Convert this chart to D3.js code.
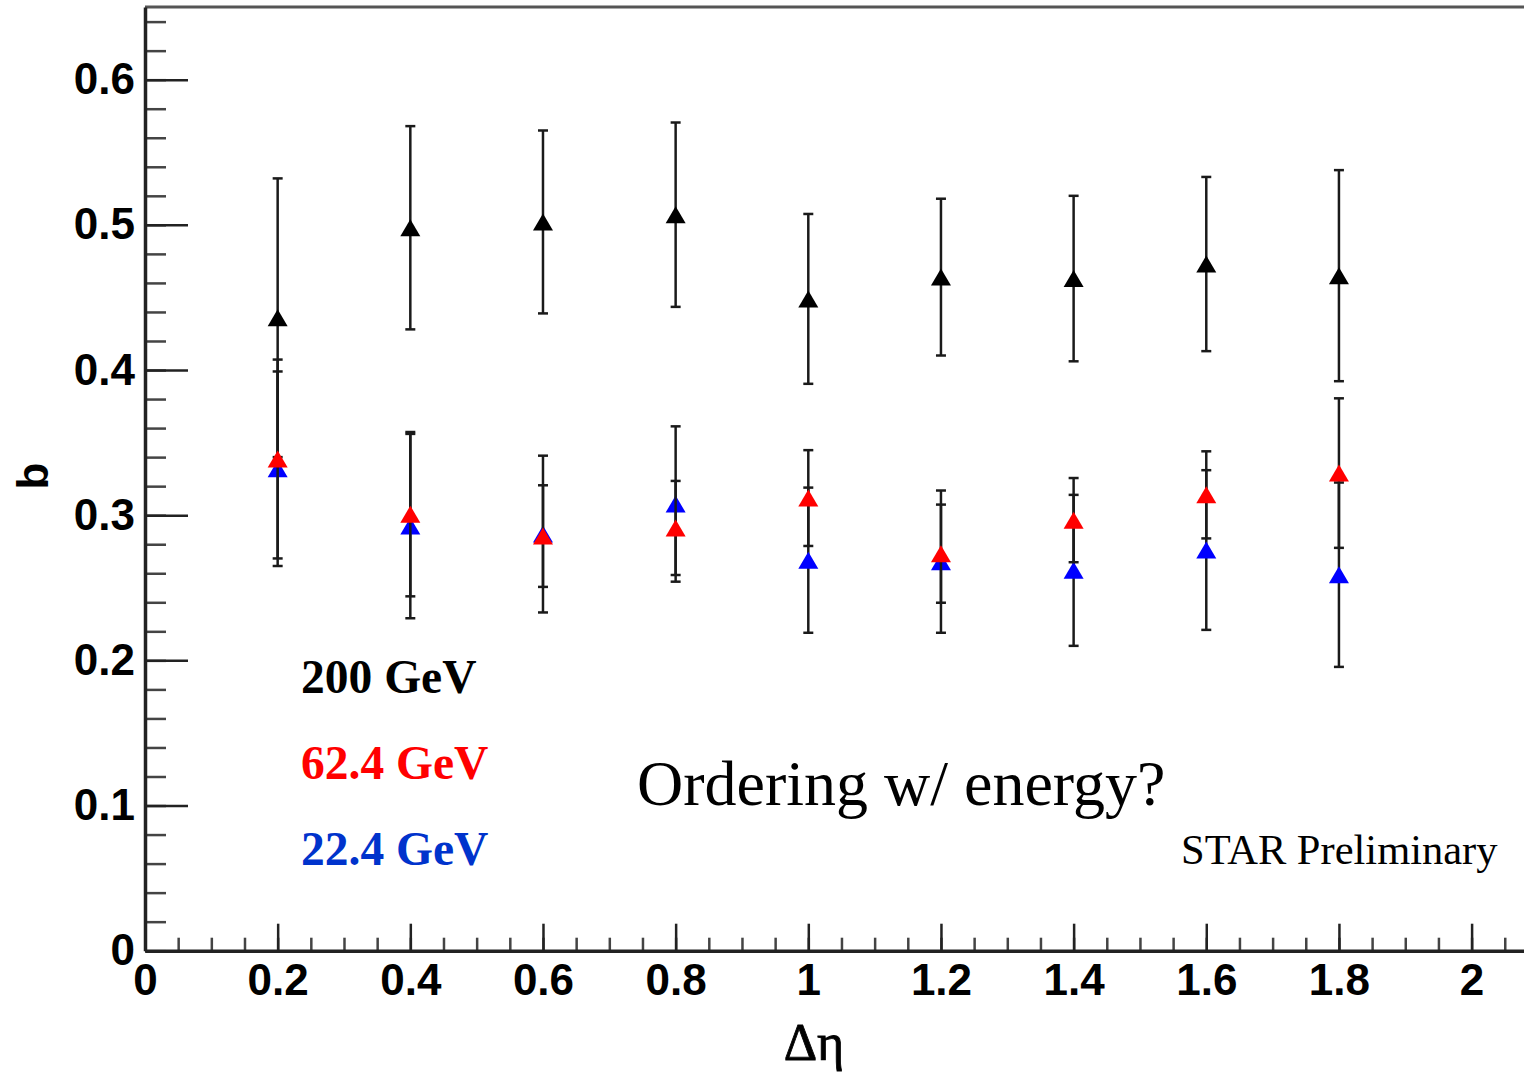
<!DOCTYPE html>
<html>
<head>
<meta charset="utf-8">
<script src="https://cdn.jsdelivr.net/npm/d3@7"></script>
<style>
  body { margin: 0; background: #fff; }
  svg { display: block; }
</style>
</head>
<body>
<svg id="chart" width="1524" height="1073"></svg>
<script>
// delta-eta bins
var deta = [0.2, 0.4, 0.6, 0.8, 1.0, 1.2, 1.4, 1.6, 1.8];

// b values and errors per beam energy
var b200 = [0.436, 0.498, 0.502, 0.507, 0.449, 0.464, 0.463, 0.473, 0.465];
var e200 = [0.096, 0.070, 0.063, 0.0635, 0.0585, 0.054, 0.057, 0.060, 0.0727];
var b62  = [0.3387, 0.3007, 0.2856, 0.2912, 0.3118, 0.2735, 0.2966, 0.314, 0.329];
var e62  = [0.0685, 0.0566, 0.035, 0.0324, 0.033, 0.0338, 0.029, 0.030, 0.0515];
var b22  = [0.332, 0.2925, 0.287, 0.3077, 0.269, 0.268, 0.262, 0.276, 0.259];
var e22  = [0.067, 0.0635, 0.054, 0.0535, 0.050, 0.049, 0.052, 0.055, 0.0635];

var xTicks = [0, 0.2, 0.4, 0.6, 0.8, 1, 1.2, 1.4, 1.6, 1.8, 2];
var yTicks = [0, 0.1, 0.2, 0.3, 0.4, 0.5, 0.6];
var legendLabels = ["200 GeV", "62.4 GeV", "22.4 GeV"];

function init(){

  var svg = d3.select("#chart");

  var x0 = 145, y0 = 950.7;
  var x = d3.scaleLinear().domain([0, 2.1]).range([x0, x0 + 2.1 * 663.3]);
  var y = d3.scaleLinear().domain([0, 0.65]).range([y0, y0 - 0.65 * 1451.7]);

  var axisColor = "#222";

  // frame top edge (right edge runs off the canvas)
  svg.append("line")
    .attr("x1", x(0)).attr("x2", x(2.1))
    .attr("y1", y(0.65)).attr("y2", y(0.65))
    .attr("stroke", "#555").attr("stroke-width", 3);

  // minor y ticks
  svg.append("g")
    .attr("transform", "translate(" + x0 + ",0)")
    .call(d3.axisLeft(y).tickValues(d3.range(0, 33).map(function(i){ return i * 0.02; }))
      .tickSizeInner(-21).tickSizeOuter(0).tickFormat(""))
    .call(function(g){ g.select(".domain").remove(); })
    .selectAll("line").attr("stroke", "#444").attr("stroke-width", 2.5);

  // minor x ticks
  svg.append("g")
    .attr("transform", "translate(0," + y0 + ")")
    .call(d3.axisBottom(x).tickValues(d3.range(0, 43).map(function(i){ return i * 0.05; }))
      .tickSizeInner(-13).tickSizeOuter(0).tickFormat(""))
    .call(function(g){ g.select(".domain").remove(); })
    .selectAll("line").attr("stroke", "#444").attr("stroke-width", 2.5);

  // y axis
  var yAxis = svg.append("g")
    .attr("transform", "translate(" + x0 + ",0)")
    .call(d3.axisLeft(y).tickValues(yTicks).tickSizeInner(-43).tickSizeOuter(0)
      .tickPadding(10).tickFormat(function(d){ return String(d); }));
  yAxis.select(".domain").attr("stroke", axisColor).attr("stroke-width", 3.5);
  yAxis.selectAll("line").attr("stroke", axisColor).attr("stroke-width", 2.5);
  yAxis.selectAll("text")
    .style("font", "bold 44px 'Liberation Sans', Arial, sans-serif")
    .attr("fill", "#000");

  // x axis
  var xAxis = svg.append("g")
    .attr("transform", "translate(0," + y0 + ")")
    .call(d3.axisBottom(x).tickValues(xTicks).tickSizeInner(-27).tickSizeOuter(0)
      .tickPadding(13).tickFormat(function(d){ return String(d); }));
  xAxis.select(".domain").attr("stroke", axisColor).attr("stroke-width", 3.5);
  xAxis.selectAll("line").attr("stroke", axisColor).attr("stroke-width", 2.5);
  xAxis.selectAll("text")
    .style("font", "bold 44px 'Liberation Sans', Arial, sans-serif")
    .attr("fill", "#000");

  // axis titles
  svg.append("text")
    .attr("transform", "translate(48,476) rotate(-90)")
    .attr("text-anchor", "middle")
    .style("font", "bold 44px 'Liberation Sans', Arial, sans-serif")
    .text("b");

  svg.append("text")
    .attr("x", 814).attr("y", 1060)
    .attr("text-anchor", "middle")
    .style("font", "52px 'Liberation Serif', 'Times New Roman', serif")
    .attr("stroke", "#000").attr("stroke-width", 0.8)
    .text("Δη");

  // series: drawn black, blue, red so red triangles sit on top
  var series = [
    {vals: b200, errs: e200, color: "#000000"},
    {vals: b22,  errs: e22,  color: "#0000ff"},
    {vals: b62,  errs: e62,  color: "#ff0000"}
  ];

  function triangle(d){
    var cx = x(d.x), cy = y(d.v);
    return "M" + (cx - 10) + "," + (cy + 8.5) +
           "L" + (cx + 10) + "," + (cy + 8.5) +
           "L" + cx + "," + (cy - 8.5) + "Z";
  }

  series.forEach(function(s){
    var pts = deta.map(function(dx, i){ return {x: dx, v: s.vals[i], e: s.errs[i]}; });
    var g = svg.append("g");

    g.selectAll(".bar").data(pts).enter().append("line")
      .attr("x1", function(d){ return x(d.x); })
      .attr("x2", function(d){ return x(d.x); })
      .attr("y1", function(d){ return y(d.v + d.e); })
      .attr("y2", function(d){ return y(d.v - d.e); })
      .attr("stroke", "#1a1a1a").attr("stroke-width", 2.5);

    [1, -1].forEach(function(sgn){
      g.selectAll(".cap" + sgn).data(pts).enter().append("line")
        .attr("x1", function(d){ return x(d.x) - 5; })
        .attr("x2", function(d){ return x(d.x) + 5; })
        .attr("y1", function(d){ return y(d.v + sgn * d.e); })
        .attr("y2", function(d){ return y(d.v + sgn * d.e); })
        .attr("stroke", "#1a1a1a").attr("stroke-width", 2.5);
    });

    g.selectAll(".marker").data(pts).enter().append("path")
      .attr("d", triangle)
      .attr("fill", s.color);
  });

  // legend text
  var legendColors = ["#000000", "#ff0000", "#0033cc"];
  var legendY = [693, 779, 865];
  svg.selectAll(".legend").data(legendLabels).enter().append("text")
    .attr("x", 301)
    .attr("y", function(d, i){ return legendY[i]; })
    .attr("fill", function(d, i){ return legendColors[i]; })
    .style("font", "bold 47.5px 'Liberation Serif', 'Times New Roman', serif")
    .text(function(d){ return d; });

  svg.append("text")
    .attr("x", 637).attr("y", 805)
    .style("font", "64px 'Liberation Serif', 'Times New Roman', serif")
    .text("Ordering w/ energy?");

  svg.append("text")
    .attr("x", 1181).attr("y", 864)
    .style("font", "42.5px 'Liberation Serif', 'Times New Roman', serif")
    .text("STAR Preliminary");
}

window.onload = init;
</script>
</body>
</html>
